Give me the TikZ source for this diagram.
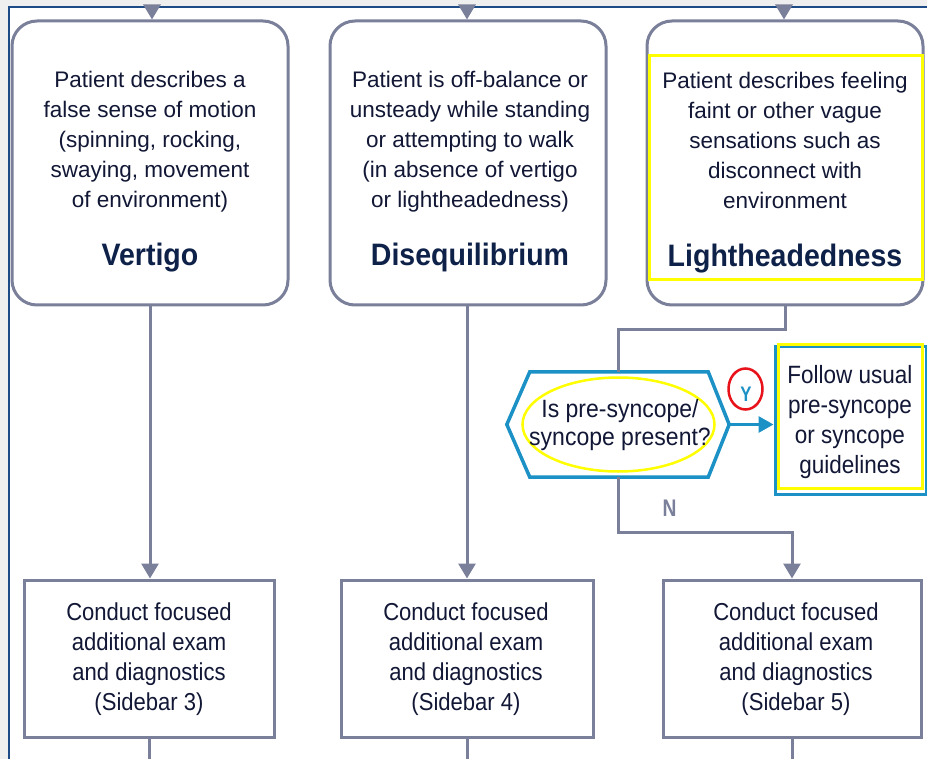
\documentclass[tikz,border=0pt]{standalone}
\usepackage{fontspec}
\setmainfont{Liberation Sans}
\newfontfamily\condfont[FakeStretch=0.9]{Liberation Sans}
\newfontfamily\qfont[FakeStretch=0.92]{Liberation Sans}
\newfontfamily\titlefont[FakeStretch=0.92]{Liberation Sans}
\newfontfamily\labelfont[FakeStretch=0.8]{Liberation Sans Bold}
\usetikzlibrary{arrows.meta,shapes.geometric}
\definecolor{lgray}{HTML}{7A7F9A}
\definecolor{hblue}{HTML}{1B91C6}
\definecolor{navy}{HTML}{111735}
\definecolor{tnavy}{HTML}{0E2148}
\definecolor{bgray}{HTML}{EFEFEF}
\definecolor{fblue}{HTML}{1D4B85}
\definecolor{yel}{HTML}{FFFF00}
\definecolor{redc}{HTML}{E8121A}
\tikzset{
  roundbox/.style={draw=lgray, line width=3pt, rounded corners=25pt, fill=white, inner sep=0pt},
  sqbox/.style={draw=lgray, line width=3pt, fill=white, inner sep=0pt},
  yelbox/.style={draw=yel, line width=3pt, inner sep=0pt},
  conn/.style={draw=lgray, line width=3pt},
  arr/.style={conn, -{Triangle[width=17pt,length=15pt]}},
  bodytext/.style={font=\fontsize{22.5}{30}\selectfont, text=navy, align=center, inner sep=0pt},
  titletext/.style={font=\titlefont\bfseries\fontsize{31}{31}\selectfont, text=tnavy, inner sep=0pt},
  condtext/.style={font=\condfont\fontsize{24.5}{30}\selectfont, text=navy, align=center, inner sep=0pt},
  qtext/.style={font=\qfont\fontsize{25}{28}\selectfont, text=navy, align=center, inner sep=0pt},
  labeltext/.style={anchor=base, inner sep=0pt},
}
\begin{document}
\begin{tikzpicture}[x=1pt,y=-1pt]
\useasboundingbox (0,0) rectangle (927,759);
\fill[bgray] (0,0) rectangle (927,759);
\fill[white] (9,8) rectangle (927,759);
\draw[fblue, line width=2pt] (8.5,759) -- (8.5,7.5) -- (927,7.5);

% top boxes
\node[roundbox, minimum width=276pt, minimum height=284pt] (v) at (150,163) {};
\node[roundbox, minimum width=276pt, minimum height=284pt] (d) at (468,163) {};
\node[roundbox, minimum width=276pt, minimum height=284pt] (lh) at (785,163) {};
\node[yelbox, minimum width=273pt, minimum height=224pt] (ly) at (785.5,168) {};

\node[bodytext, anchor=north] (vt) at (150,70.5) {Patient describes a\\false sense of motion\\(spinning, rocking,\\swaying, movement\\of environment)};
\node[titletext, anchor=base] (vtitle) at (150,266) {Vertigo};
\node[bodytext, anchor=north] (dt) at (470,70.5) {Patient is off-balance or\\unsteady while standing\\or attempting to walk\\(in absence of vertigo\\or lightheadedness)};
\node[titletext, anchor=base] (dtitle) at (470,266) {Disequilibrium};
\node[bodytext, anchor=north] (lt) at (785,72) {Patient describes feeling\\faint or other vague\\sensations such as\\disconnect with\\environment};
\node[titletext, anchor=base] (ltitle) at (785,267) {Lightheadedness};

% top incoming arrows
\coordinate (t1) at (152,6);
\coordinate (t2) at (467,6);
\coordinate (t3) at (784,6);
\draw[arr] (t1) -- (t1 |- v.north);
\draw[arr] (t2) -- (t2 |- d.north);
\draw[arr] (t3) -- (t3 |- lh.north);

% bottom boxes
\node[sqbox, minimum width=250pt, minimum height=157pt] (b1) at (149,658.5) {};
\node[sqbox, minimum width=252pt, minimum height=157pt] (b2) at (467,658.5) {};
\node[sqbox, minimum width=258pt, minimum height=157pt] (b3) at (792,658.5) {};
\node[condtext, anchor=north] (b1t) at (149,603) {Conduct focused\\additional exam\\and diagnostics\\(Sidebar 3)};
\node[condtext, anchor=north] (b2t) at (466,603) {Conduct focused\\additional exam\\and diagnostics\\(Sidebar 4)};
\node[condtext, anchor=north] (b3t) at (796,603) {Conduct focused\\additional exam\\and diagnostics\\(Sidebar 5)};

% hexagon decision
\node[minimum width=222pt, minimum height=105pt, inner sep=0pt] (hex) at (618,424.5) {};
\draw[hblue, line width=3.5pt, line join=miter] (hex.west) -- ([xshift=23pt]hex.north west) -- ([xshift=-21pt]hex.north east) -- (hex.east) -- ([xshift=-21pt]hex.south east) -- ([xshift=23pt]hex.south west) -- cycle;
\node[ellipse, draw=yel, line width=2.5pt, minimum width=192pt, minimum height=94pt, inner sep=0pt] (qe) at (618.5,424.5) {};
\node[qtext] (qt) at (620,425) {Is pre-syncope/\\syncope present?};

% follow box
\node[draw=hblue, line width=3pt, minimum width=151pt, minimum height=147pt, inner sep=0pt] (fb) at (850.5,420.5) {};
\node[yelbox, minimum width=144pt, minimum height=143pt] (fy) at (850,416.5) {};
\node[condtext, font=\condfont\fontsize{25}{30}\selectfont, anchor=north] (ft) at (850,365) {Follow usual\\pre-syncope\\or syncope\\guidelines};

% Y label
\node[ellipse, draw=redc, line width=2.5pt, minimum width=34pt, minimum height=41pt, inner sep=0pt] (yl) at (745.5,389) {};
\node[labeltext, text=hblue, font=\labelfont\fontsize{21}{21}\selectfont] (ytxt) at (746,402) {Y};
% N label
\node[labeltext, text=lgray, font=\labelfont\fontsize{24}{24}\selectfont] (nl) at (669.5,516.5) {N};

% connectors
\draw[arr] (v.south) -- (v.south |- b1.north);
\draw[arr] (b2.north |- d.south) -- (b2.north);
\draw[conn] (lh.south) -- ++(0,23) -| (hex.north);
\draw[arr] (hex.south) -- ++(0,55) -| (b3.north);
\draw[hblue, line width=3pt, -{Triangle[width=16pt,length=15pt]}] (hex.east) -- (hex.east -| fb.west);

% outgoing tails
\coordinate (e1) at (149,762);
\coordinate (e2) at (467,762);
\coordinate (e3) at (792,762);
\draw[conn] (b1.south) -- (e1);
\draw[conn] (b2.south) -- (e2);
\draw[conn] (b3.south) -- (e3);
\end{tikzpicture}
\end{document}
